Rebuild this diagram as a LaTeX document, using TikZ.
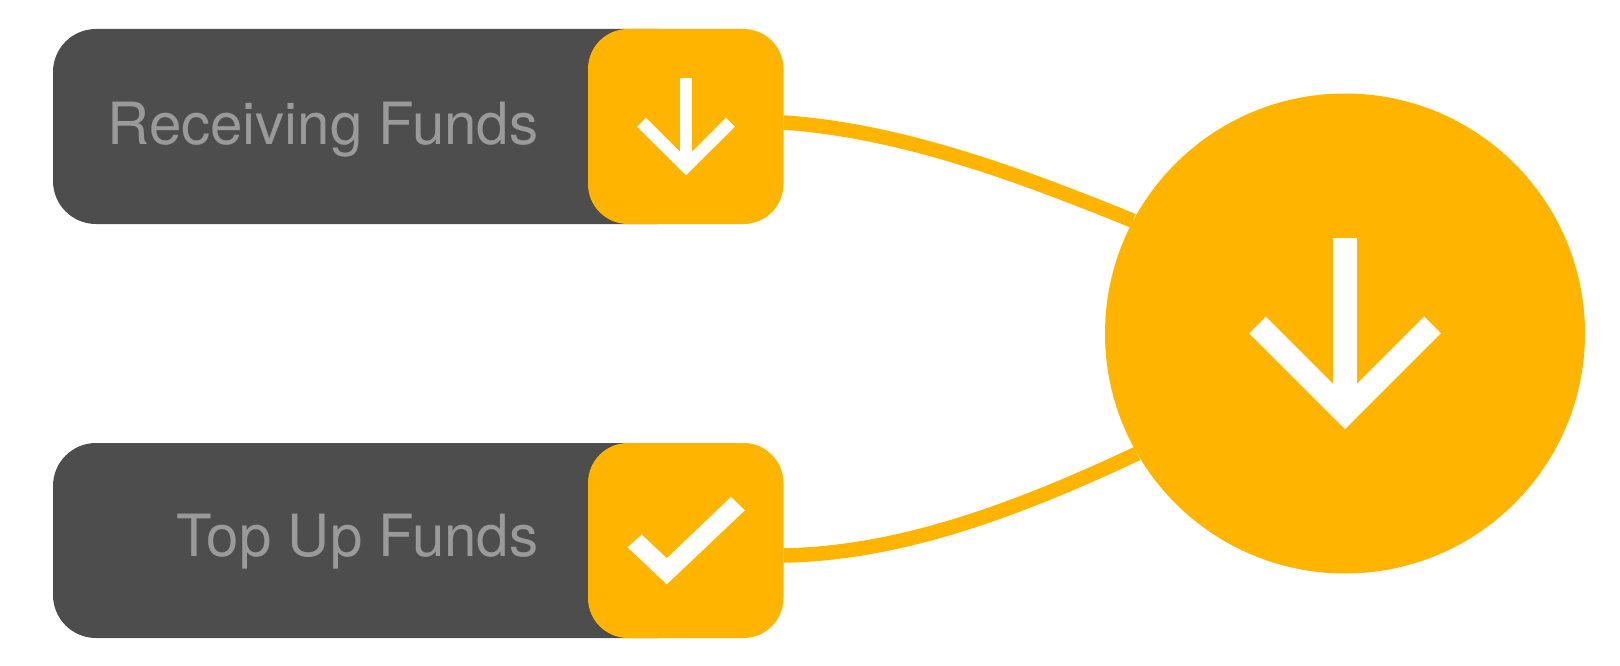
\documentclass[tikz,border=0pt]{standalone}
\usepackage{fontspec}
\usetikzlibrary{backgrounds}
\setmainfont{TeX Gyre Heros}
\definecolor{amber}{HTML}{FFB500}
\definecolor{slatebar}{HTML}{4D4D4D}
\definecolor{labelgrey}{HTML}{9A9A9A}
\tikzset{
  bar/.style={rectangle,fill=slatebar,rounded corners=43pt,inner sep=0pt,minimum width=647pt,minimum height=195pt},
  iconbox/.style={rectangle,fill=amber,rounded corners=40pt,inner sep=0pt,minimum width=195.5pt,minimum height=195pt},
  hubdisc/.style={circle,fill=amber,inner sep=0pt,minimum size=480pt},
  barlabel/.style={anchor=base east,inner sep=0pt,text=labelgrey,font=\fontsize{58.2}{58.2}\selectfont},
  link/.style={draw=amber,line width=14.5pt},
  glyphS/.style={draw=white,line width=12.5pt,miter limit=10},
  glyphL/.style={draw=white,line width=23.5pt,miter limit=10}
}
\begin{document}
\begin{tikzpicture}[x=1pt,y=-1pt]
\useasboundingbox (0,0) rectangle (1620,666);
\node[bar] (b1) at (376.5,126.5) {};
\node[bar] (b2) at (376.5,540.5) {};
\node[iconbox] (o1) at (685.75,126.5) {};
\node[iconbox] (o2) at (685.75,540.5) {};
\node[hubdisc] (hub) at (1345,333.5) {};
\begin{scope}[on background layer]
\draw[link] ([yshift=4pt]o1.east) .. controls (899.5,130.5) and (1015.5,173) .. (hub.152.85);
\draw[link] ([yshift=-15pt]o2.east) .. controls (902.5,553.5) and (1021,508) .. (hub.210.8);
\end{scope}
\node[barlabel] (t1) at (538.5,145) {Receiving Funds};
\node[barlabel] (t2) at (538.5,556.4) {Top Up Funds};
% small arrow
\draw[glyphS] (686,78) -- (686,166);
\draw[glyphS] (641.5,122.3) -- (686,166.5) -- (730.5,122.3);
% check mark
\fill[white] (627.6,547.3) -- (641.7,534.7) -- (666.8,558.3) -- (731,497) -- (744.8,510.3) -- (666.8,584.3) -- cycle;
% big arrow
\draw[glyphL] (1345,238) -- (1345,412);
\draw[glyphL] (1257.5,325) -- (1345,412.4) -- (1432.5,325);
\end{tikzpicture}
\end{document}
